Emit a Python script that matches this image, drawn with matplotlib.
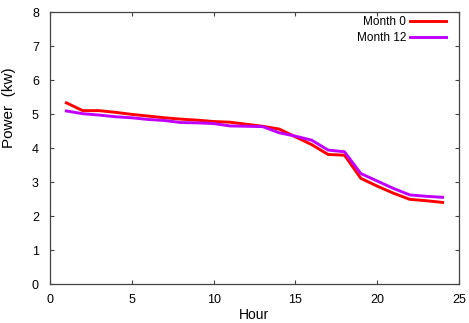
import matplotlib
matplotlib.use("Agg")
import matplotlib.pyplot as plt

plt.rcParams['font.family'] = ['Liberation Sans', 'DejaVu Sans']

hours = list(range(1, 25))
month0 = [5.33, 5.10, 5.10, 5.05, 4.99, 4.94, 4.89, 4.85, 4.82, 4.78, 4.76, 4.70,
          4.64, 4.56, 4.33, 4.10, 3.81, 3.79, 3.11, 2.88, 2.67, 2.49, 2.45, 2.40]
month12 = [5.09, 5.01, 4.97, 4.92, 4.89, 4.84, 4.81, 4.75, 4.74, 4.72, 4.65, 4.64,
           4.63, 4.45, 4.35, 4.23, 3.94, 3.89, 3.25, 3.03, 2.81, 2.62, 2.58, 2.55]

fig = plt.figure(figsize=(4.69, 3.23), dpi=100)
ax = fig.add_axes([0.1066, 0.1207, 0.872, 0.842])

ax.plot(hours, month0, color="#FF0000", lw=2.1, label="Month 0")
ax.plot(hours, month12, color="#C000FF", lw=2.1, label="Month 12")

ax.set_xlim(0, 25)
ax.set_ylim(0, 8)
ax.set_xticks([0, 5, 10, 15, 20, 25])
ax.set_yticks(range(0, 9))
ax.tick_params(direction="in", top=True, right=True, length=3, width=0.8,
               labelsize=9, color="#444444")
ax.tick_params(axis="y", pad=8)
ax.tick_params(axis="x", pad=7)
for s in ax.spines.values():
    s.set_color("#444444")
    s.set_linewidth(0.9)

ax.set_xlabel("Hour", fontsize=10)
ax.xaxis.set_label_coords(0.5, -0.088)
ax.set_ylabel("Power  (kw)", fontsize=11)
ax.yaxis.set_label_coords(-0.083, 0.647)

ax.legend(loc="upper right", bbox_to_anchor=(0.968, 0.985), frameon=False,
          markerfirst=False, fontsize=8.5, handlelength=3.0, handletextpad=0.35,
          borderaxespad=0, borderpad=0, labelspacing=0.3)

fig.savefig("out.png", dpi=100)
